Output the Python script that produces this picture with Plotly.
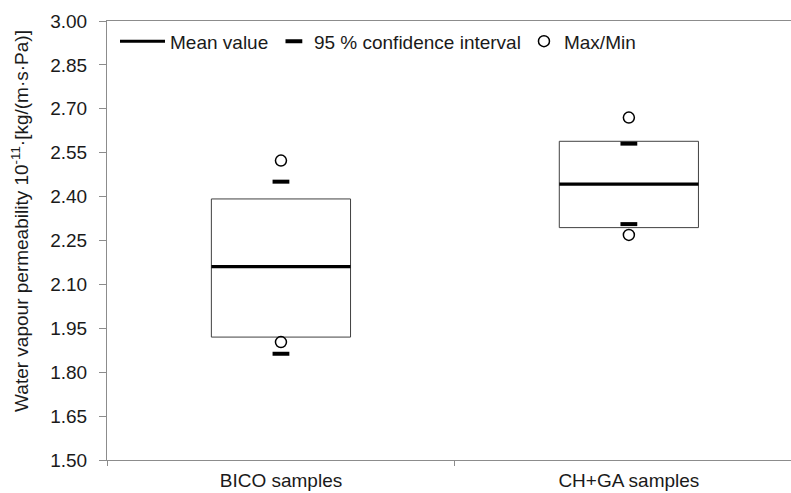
import plotly.graph_objects as go

categories = ["BICO samples", "CH+GA samples"]
box_low = [1.920, 2.294]
box_high = [2.392, 2.589]
mean_vals = [2.161, 2.443]
ci_upper = [2.451, 2.581]
ci_lower = [1.863, 2.306]
max_vals = [2.523, 2.670]
min_vals = [1.903, 2.269]
y_ticks = [1.50, 1.65, 1.80, 1.95, 2.10, 2.25, 2.40, 2.55, 2.70, 2.85, 3.00]

FONT = "Liberation Sans, Arial, sans-serif"
TXT = "#1a1a1a"
AX = "#8c8c8c"
FS = 19
half_line = 0.0055

fig = go.Figure()

# boxes
fig.add_trace(go.Bar(
    x=categories, base=box_low,
    y=[h - l for h, l in zip(box_high, box_low)],
    width=0.4, marker=dict(color="white", line=dict(color="#404040", width=1)),
    showlegend=False, hoverinfo="skip"))

# mean line as thin bar
fig.add_trace(go.Bar(
    x=categories, base=[m - half_line for m in mean_vals],
    y=[2 * half_line] * len(mean_vals),
    width=0.4, marker=dict(color="black", line=dict(width=0)),
    showlegend=False, hoverinfo="skip"))

# legend entry for mean
fig.add_trace(go.Scatter(
    x=[None], y=[None], mode="lines", name="Mean value", legend="legend",
    line=dict(color="black", width=3)))

# CI markers
fig.add_trace(go.Scatter(
    x=categories + categories, y=ci_upper + ci_lower, mode="markers",
    name="95 % confidence interval", legend="legend2",
    marker=dict(symbol="line-ew-open", size=12, color="black",
                line=dict(color="black", width=4))))

# max/min
fig.add_trace(go.Scatter(
    x=categories + categories, y=max_vals + min_vals, mode="markers",
    name="Max/Min", legend="legend3",
    marker=dict(symbol="circle-open", size=11, color="black",
                line=dict(color="black", width=1.5))))

leg_common = dict(orientation="h", y=0.997, xanchor="left", yanchor="top",
                  font=dict(size=FS, color=TXT), bgcolor="rgba(0,0,0,0)")

fig.update_layout(
    width=791, height=493,
    margin=dict(l=107, r=0, t=21, b=33),
    paper_bgcolor="white", plot_bgcolor="white",
    barmode="overlay",
    font=dict(family=FONT, size=FS, color=TXT),
    showlegend=True,
    legend=dict(x=0.0117, itemwidth=45, **leg_common),
    legend2=dict(x=0.244, itemwidth=30, **leg_common),
    legend3=dict(x=0.6096, itemwidth=30, **leg_common),
    xaxis=dict(
        type="category", range=[-0.5, 1.466],
        showline=True, linecolor=AX, linewidth=1, mirror=True,
        ticks="outside", tickson="boundaries", ticklen=5, tickcolor=AX,
        ticklabelstandoff=3,
        showgrid=False, zeroline=False, automargin=False,
        tickfont=dict(size=FS, color=TXT)),
    yaxis=dict(
        range=[1.50, 3.00], tickvals=y_ticks,
        ticktext=[f"{v:.2f}" for v in y_ticks],
        showline=True, linecolor=AX, linewidth=1,
        ticks="outside", ticklen=7, tickcolor=AX, ticklabelstandoff=8,
        showgrid=False, zeroline=False, automargin=False,
        tickfont=dict(size=FS, color=TXT)),
    annotations=[dict(
        text="Water vapour permeability 10<sup>-11</sup>·[kg/(m·s·Pa)]",
        textangle=-90, xref="paper", yref="paper", x=-0.127, y=0.545,
        xanchor="center", yanchor="middle", showarrow=False,
        font=dict(size=FS, color=TXT))],
)

fig.write_html("out.html", config={"displayModeBar": False},
               post_script="document.body.style.margin='0';document.body.style.overflow='hidden';")
